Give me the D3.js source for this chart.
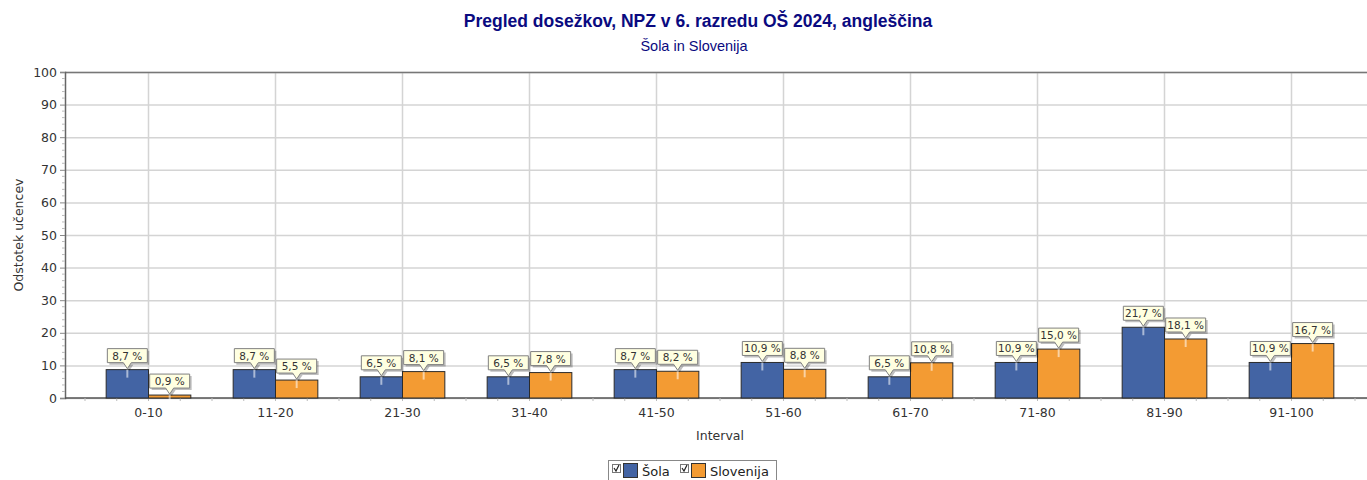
<!DOCTYPE html>
<html><head><meta charset="utf-8">
<script src="https://cdn.jsdelivr.net/npm/d3@7/dist/d3.min.js"></script>
<style>body{margin:0;background:#fff}svg{display:block}</style>
</head><body>
<svg id="c" width="1367" height="480"></svg>
<script>
const categories = ["0-10","11-20","21-30","31-40","41-50","51-60","61-70","71-80","81-90","91-100"];
const sola = [8.7, 8.7, 6.5, 6.5, 8.7, 10.9, 6.5, 10.9, 21.7, 10.9];
const slovenija = [0.9, 5.5, 8.1, 7.8, 8.2, 8.8, 10.8, 15.0, 18.1, 16.7];
const seriesNames = ["Šola", "Slovenija"];
const yTicks = [0,10,20,30,40,50,60,70,80,90,100];
const colors = ["#4364a4", "#f39b33"];

const svg = d3.select("#c");
const plotL = 65, plotR = 1367, plotT = 72, plotB = 398;
const x = d3.scaleBand().domain(categories).range([85, 1355]).padding(0);
const x1 = d3.scaleBand().domain(seriesNames).range([0, x.bandwidth()]).paddingInner(0).paddingOuter(0.5);
const y = d3.scaleLinear().domain([0,100]).range([plotB, plotT]);
const sansV = "'DejaVu Sans', Verdana, sans-serif";

// gridlines
svg.append("g").selectAll("line").data(yTicks).join("line")
  .attr("x1", plotL).attr("x2", plotR).attr("y1", d=>y(d)+0.5).attr("y2", d=>y(d)+0.5)
  .attr("stroke", "#d4d4d4").attr("stroke-width", 1.5);
svg.append("g").selectAll("line").data(categories).join("line")
  .attr("x1", d=>x(d)+x.bandwidth()/2).attr("x2", d=>x(d)+x.bandwidth()/2)
  .attr("y1", plotT).attr("y2", plotB)
  .attr("stroke", "#d4d4d4").attr("stroke-width", 1.5);

// top border
svg.append("line").attr("x1", plotL).attr("x2", plotR).attr("y1", plotT+0.5).attr("y2", plotT+0.5)
  .attr("stroke", "#777").attr("stroke-width", 1.5);

// y axis
const yAxis = d3.axisLeft(y).tickValues(yTicks).tickSize(5).tickPadding(3);
const gy = svg.append("g").attr("transform", `translate(${plotL},0)`).call(yAxis);
gy.select(".domain").attr("stroke", "#666").attr("stroke-width", 1.5);
gy.selectAll(".tick line").attr("stroke", "#888");
gy.selectAll("text").attr("font-family", sansV).attr("font-size", 12.5).attr("fill", "#333");
// minor ticks
const minor = d3.range(0, 101, 2).filter(v => v % 10 !== 0);
svg.append("g").selectAll("line").data(minor).join("line")
  .attr("x1", plotL-3).attr("x2", plotL).attr("y1", d=>y(d)).attr("y2", d=>y(d))
  .attr("stroke", "#bbb");

// x axis
const xAxis = d3.axisBottom(x).tickSize(0).tickPadding(10);
const gx = svg.append("g").attr("transform", `translate(0,${plotB})`).call(xAxis);
gx.select(".domain").remove();
gx.selectAll("text").attr("font-family", sansV).attr("font-size", 12.5).attr("fill", "#333");
svg.append("line").attr("x1", plotL).attr("x2", plotR).attr("y1", plotB).attr("y2", plotB)
  .attr("stroke", "#555").attr("stroke-width", 1.5);
const xMinor = [];
categories.forEach(c => { for (let k=0;k<4;k++) xMinor.push(x(c) + k*x.bandwidth()/4); });
xMinor.push(x(categories[categories.length-1]) + x.bandwidth());
svg.append("g").selectAll("line").data(xMinor).join("line")
  .attr("x1", d=>d).attr("x2", d=>d).attr("y1", plotB).attr("y2", plotB+3).attr("stroke", "#bbb");

// bars
const data = categories.map((c,i)=>({c, vals:[sola[i], slovenija[i]]}));
const groups = svg.append("g").selectAll("g").data(data).join("g")
  .attr("transform", d=>`translate(${x(d.c)},0)`);
groups.selectAll("rect").data(d=>d.vals.map((v,j)=>({v, s:seriesNames[j], j}))).join("rect")
  .attr("x", d=>x1(d.s)).attr("width", x1.bandwidth())
  .attr("y", d=>y(d.v)).attr("height", d=>plotB - y(d.v))
  .attr("fill", d=>colors[d.j]).attr("stroke", "#2b2b2b").attr("stroke-width", 1);

// labels
const fmt = v => v.toFixed(1).replace(".", ",") + " %";
const lab = groups.selectAll("g.lab").data(d=>d.vals.map((v,j)=>({v, s:seriesNames[j], j}))).join("g")
  .attr("class","lab")
  .attr("transform", d=>`translate(${x1(d.s)+x1.bandwidth()/2},${y(d.v)})`);
// light line into bar
lab.append("line").attr("x1",0).attr("x2",0).attr("y1",0).attr("y2",8)
  .attr("stroke", "rgba(255,255,255,0.55)").attr("stroke-width", 2);
const bw = 40, bh = 14, ptr = 7;
const boxPath = `M${-bw/2},${-ptr-bh} H${bw/2} V${-ptr} H4 L0,${-1} L-4,${-ptr} H${-bw/2} Z`;
lab.append("path").attr("d", boxPath).attr("transform","translate(2,2)").attr("fill","rgba(0,0,0,0.25)");
lab.append("path").attr("d", boxPath).attr("fill","#ffffe1").attr("stroke","#808080").attr("stroke-width",1);
lab.append("text").attr("y", -ptr-bh/2+4).attr("text-anchor","middle")
  .attr("font-family", sansV).attr("font-size", 10.5).attr("fill","#333").text(d=>fmt(d.v));

// titles
svg.append("text").attr("x", 698).attr("y", 27).attr("text-anchor","middle")
  .attr("font-family","'Liberation Sans', Arial, sans-serif").attr("font-weight","bold")
  .attr("font-size", 17.5).attr("fill","#0a0a80").text("Pregled dosežkov, NPZ v 6. razredu OŠ 2024, angleščina");
svg.append("text").attr("x", 694).attr("y", 51).attr("text-anchor","middle")
  .attr("font-family","'Liberation Sans', Arial, sans-serif")
  .attr("font-size", 14.5).attr("fill","#0a0a80").text("Šola in Slovenija");
svg.append("text").attr("transform", `translate(23,235) rotate(-90)`).attr("text-anchor","middle")
  .attr("font-family", sansV).attr("font-size", 12.5).attr("fill","#333").text("Odstotek učencev");
svg.append("text").attr("x", 720).attr("y", 440).attr("text-anchor","middle")
  .attr("font-family", sansV).attr("font-size", 12.5).attr("fill","#333").text("Interval");

// legend
const leg = svg.append("g");
leg.append("rect").attr("x", 608.5).attr("y", 460.5).attr("width", 168).attr("height", 24)
  .attr("fill","#fff").attr("stroke","#888");
const legX = [612, 680];
seriesNames.forEach((s,i)=>{
  const g = leg.append("g").attr("transform", `translate(${legX[i]},0)`);
  g.append("rect").attr("x",0.5).attr("y",464.5).attr("width",8).attr("height",8).attr("fill","#fff").attr("stroke","#777");
  g.append("path").attr("d","M2,468 L4,471 L7,465").attr("fill","none").attr("stroke","#222").attr("stroke-width",1.2);
  g.append("rect").attr("x",11.5).attr("y",463.5).attr("width",14).attr("height",14).attr("fill",colors[i]).attr("stroke","#333");
  g.append("text").attr("x",30).attr("y",476).attr("font-family",sansV).attr("font-size",13).attr("fill","#222").text(s);
});
</script>
</body></html>
